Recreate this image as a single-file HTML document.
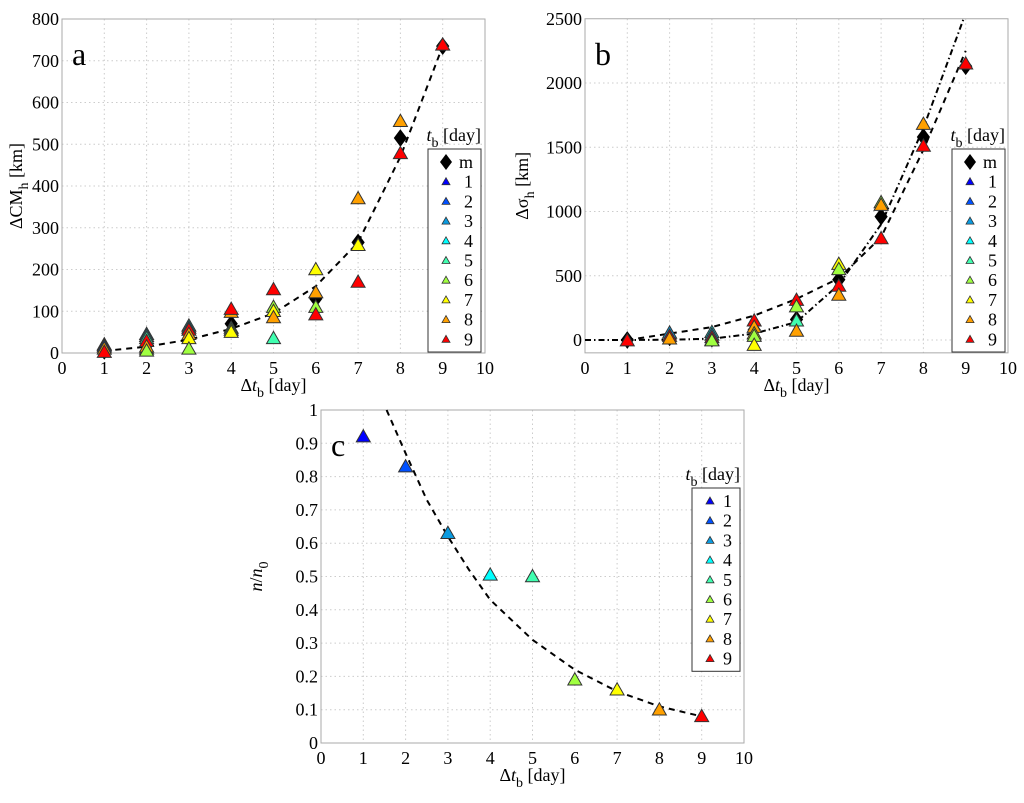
<!DOCTYPE html>
<html><head><meta charset="utf-8">
<style>
html,body{margin:0;padding:0;background:#fff;}
svg, svg text{font-family:"Liberation Serif","Times New Roman",serif;}
</style></head>
<body>
<svg id="fig" width="1024" height="798" viewBox="0 0 1024 798" xmlns="http://www.w3.org/2000/svg" font-family="Liberation Serif, serif"></svg>
<script>
// ---- data ----
const tbColors = ["#0000ff","#0050ff","#0a9be0","#00ffff","#40ffb0","#a0ff40","#ffff00","#ffa000","#ff0000"];
const xTicks = [0,1,2,3,4,5,6,7,8,9,10];
// panel a
const aYTicks = [0,100,200,300,400,500,600,700,800];
const aMean = [[1,5],[2,18],[3,35],[4,70],[5,92],[6,130],[7,265],[8,515],[9,735]];
const aPoints = [
 [1,3,20],[1,4,18],[1,2,15],[1,8,10],[1,9,2],
 [2,3,45],[2,4,40],[2,5,35],[2,9,28],[2,7,10],[2,8,15],[2,6,5],
 [3,4,65],[3,3,60],[3,9,55],[3,8,45],[3,7,35],[3,6,10],
 [4,8,98],[4,9,105],[4,5,60],[4,6,55],[4,7,50],
 [5,9,152],[5,6,110],[5,7,100],[5,8,85],[5,5,35],
 [6,7,200],[6,8,145],[6,6,110],[6,9,92],
 [7,8,370],[7,7,258],[7,9,170],
 [8,8,555],[8,9,478],
 [9,9,738]];
const aFitX = [1,2,3,4,5,6,7,8,9];
const aFitY = [5,15,32,58,95,160,265,470,735];
// panel b
const bYTicks = [0,500,1000,1500,2000,2500];
const bMean = [[1,0],[2,20],[3,10],[4,80],[5,160],[6,470],[7,960],[8,1580],[9,2130]];
const bPoints = [
 [1,9,-5],
 [2,3,55],[2,9,30],[2,8,10],
 [3,4,60],[3,3,40],[3,9,20],[3,7,0],[3,6,-5],
 [4,9,150],[4,8,100],[4,7,50],[4,6,30],[4,7,-40],
 [5,9,310],[5,6,260],[5,5,150],[5,8,70],
 [6,7,590],[6,6,550],[6,9,420],[6,8,350],
 [7,6,1070],[7,8,1050],[7,9,790],
 [8,8,1680],[8,9,1510],
 [9,9,2150]];
const bFit1X = [1,2,3,4,5,6,7,8,9];
const bFit1Y = [0,50,100,190,320,480,800,1480,2250];
const bFit2X = [0,1,2,3,4,5,6,7,8,8.95];
const bFit2Y = [0,0,2,10,50,140,430,900,1650,2500];
// panel c
const cYTicks = [0,0.1,0.2,0.3,0.4,0.5,0.6,0.7,0.8,0.9,1];
const cPoints = [[1,1,0.92],[2,2,0.83],[3,3,0.63],[4,4,0.505],[5,5,0.5],[6,6,0.19],[7,7,0.16],[8,8,0.10],[9,9,0.08]];
const cFitX = [1.55,2,2.5,3,3.5,4,5,6,7,8,9];
const cFitY = [1,0.87,0.73,0.62,0.52,0.43,0.31,0.22,0.155,0.11,0.08];

const NS="http://www.w3.org/2000/svg";
const svg=document.getElementById('fig');
const FF='Liberation Serif, Times New Roman, serif';
function mk(tag,attrs,parent,text){const e=document.createElementNS(NS,tag);for(const k in attrs)e.setAttribute(k,attrs[k]);if(tag==='text')e.setAttribute('font-family',FF);if(text!==undefined)e.textContent=text;(parent||svg).appendChild(e);return e;}

function panel(cfg){
 const g=mk('g',{});
 
 
 const X=v=>cfg.x0+(v-0)/10*(cfg.x1-cfg.x0);
 const Y=v=>cfg.yb0+(v-cfg.ymin0)/(cfg.ymax0-cfg.ymin0)*(cfg.yb1-cfg.yb0);
 const top=Y(cfg.ymax), bot=Y(cfg.ymin);
 xTicks.forEach(t=>{ if(t>0&&t<10){const l=mk('line',{x1:X(t),x2:X(t),y1:top,y2:bot,stroke:'#ccc','stroke-dasharray':'1.5,3','stroke-width':1},g);
   
   }});
 cfg.yTicks.forEach(t=>{ if(Y(t)>top+1&&Y(t)<bot-1){const l=mk('line',{x1:X(0),x2:X(10),y1:Y(t),y2:Y(t),stroke:'#ccc','stroke-dasharray':'1.5,3','stroke-width':1},g);
   
   }});
 const fr=mk('rect',{x:X(0),y:top,width:X(10)-X(0),height:bot-top,fill:'none',stroke:'#aaa','stroke-width':1},g);
 
 
 xTicks.forEach(t=>{const tx=mk('text',{x:X(t),y:bot+21,'text-anchor':'middle','font-size':18},g,String(t));
  
  });
 cfg.yTicks.forEach(t=>{const tx=mk('text',{x:X(0)-3,y:Y(t)+6,'text-anchor':'end','font-size':18},g,String(t));
  
  });
 const xl=mk('text',{x:(X(0)+X(10))/2,y:bot+38,'text-anchor':'middle','font-size':18},g);
 
 
 xl.innerHTML='Δ<tspan font-style="italic">t</tspan><tspan font-size="14" dy="6">b</tspan><tspan dy="-6"> [day]</tspan>';
 const yl=mk('text',{x:0,y:0,'text-anchor':'middle','font-size':18,transform:`translate(${cfg.ylx},${(top+bot)/2}) rotate(-90)`},g);
 
 
 yl.innerHTML=cfg.ylabel;
 const pl=mk('text',{x:X(0)+cfg.letterDx,y:top+cfg.letterDy,'font-size':32},g,cfg.letter);
 
 
 cfg.fits.forEach(f=>{
  const d=f.xs.map((x,i)=>(i?'L':'M')+X(x).toFixed(1)+','+Y(Math.min(f.ys[i],cfg.ymax)).toFixed(1)).join(' ');
  const p=mk('path',{d,fill:'none',stroke:'#000','stroke-width':2,'stroke-dasharray':f.dash},g);
  
  
 });
 (cfg.mean||[]).forEach(pt=>{
  const cx=X(pt[0]),cy=Y(pt[1]);const s=8;
  const d=mk('polygon',{points:`${cx},${cy-s} ${cx+s*0.75},${cy} ${cx},${cy+s} ${cx-s*0.75},${cy}`,fill:'#000',stroke:'#000'},g);
  
  
 });
 cfg.points.forEach(pt=>{
  const cx=X(pt[0]),cy=Y(pt[2]);
  const s=7;
  const t=mk('polygon',{points:`${cx},${cy-s} ${cx-s},${cy+s*0.75} ${cx+s},${cy+s*0.75}`,fill:tbColors[pt[1]-1],stroke:'#333','stroke-width':1},g);
  
  
 });
 const L=cfg.legend;
 const lt=mk('text',{x:L.x+L.w,y:L.y-8,'text-anchor':'end','font-size':18},g);
 
 
 lt.innerHTML='<tspan font-style="italic">t</tspan><tspan font-size="14" dy="6">b</tspan><tspan dy="-6"> [day]</tspan>';
 const entries=(cfg.mean?['m']:[]).concat(['1','2','3','4','5','6','7','8','9']);
 const lb=mk('rect',{x:L.x,y:L.y,width:L.w,height:entries.length*19.7+6,fill:'#fff',stroke:'#333','stroke-width':1},g);
 
 
 entries.forEach((e,i)=>{
  const cy=L.y+13+i*19.7, cx=L.x+18;
  let m;
  if(e==='m'){m=mk('polygon',{points:`${cx},${cy-8} ${cx+6},${cy} ${cx},${cy+8} ${cx-6},${cy}`,fill:'#000'},g);}
  else{m=mk('polygon',{points:`${cx},${cy-4} ${cx-4},${cy+3} ${cx+4},${cy+3}`,fill:tbColors[+e-1],stroke:'#333','stroke-width':0.8},g);}
  
  
  const tx=mk('text',{x:L.x+L.w-8,y:cy+6,'text-anchor':'end','font-size':18},g,e);
  
  
 });
}

panel({name:'panel-a',x0:62,x1:485,ymin0:0,ymax0:800,yb0:353,yb1:19,ymin:0,ymax:800,yTicks:aYTicks,
 ylabel:'ΔCM<tspan font-size="14" dy="6">h</tspan><tspan dy="-6"> [km]</tspan>',ylx:22,letter:'a',letterDx:10,letterDy:46,
 fits:[{xs:aFitX,ys:aFitY,dash:'6,5'}],points:aPoints,mean:aMean,legend:{x:428,y:149,w:53}});
panel({name:'panel-b',x0:585,x1:1008,ymin0:0,ymax0:2000,yb0:340,yb1:83,ymin:-100,ymax:2500,yTicks:bYTicks,
 ylabel:'Δσ<tspan font-size="14" dy="6">h</tspan><tspan dy="-6"> [km]</tspan>',ylx:528,letter:'b',letterDx:10,letterDy:46,
 fits:[{xs:bFit1X,ys:bFit1Y,dash:'6,5'},{xs:bFit2X,ys:bFit2Y,dash:'6,3,1.5,3'}],points:bPoints,mean:bMean,legend:{x:952,y:149,w:53}});
panel({name:'panel-c',x0:321,x1:744,ymin0:0,ymax0:1,yb0:743,yb1:410,ymin:0,ymax:1,yTicks:cYTicks,
 ylabel:'<tspan font-style="italic">n</tspan>/<tspan font-style="italic">n</tspan><tspan font-size="14" dy="6">0</tspan>',ylx:262,letter:'c',letterDx:10,letterDy:46,
 fits:[{xs:cFitX,ys:cFitY,dash:'6,5'}],points:cPoints,mean:null,legend:{x:692,y:488,w:48}});
</script>
</body></html>
